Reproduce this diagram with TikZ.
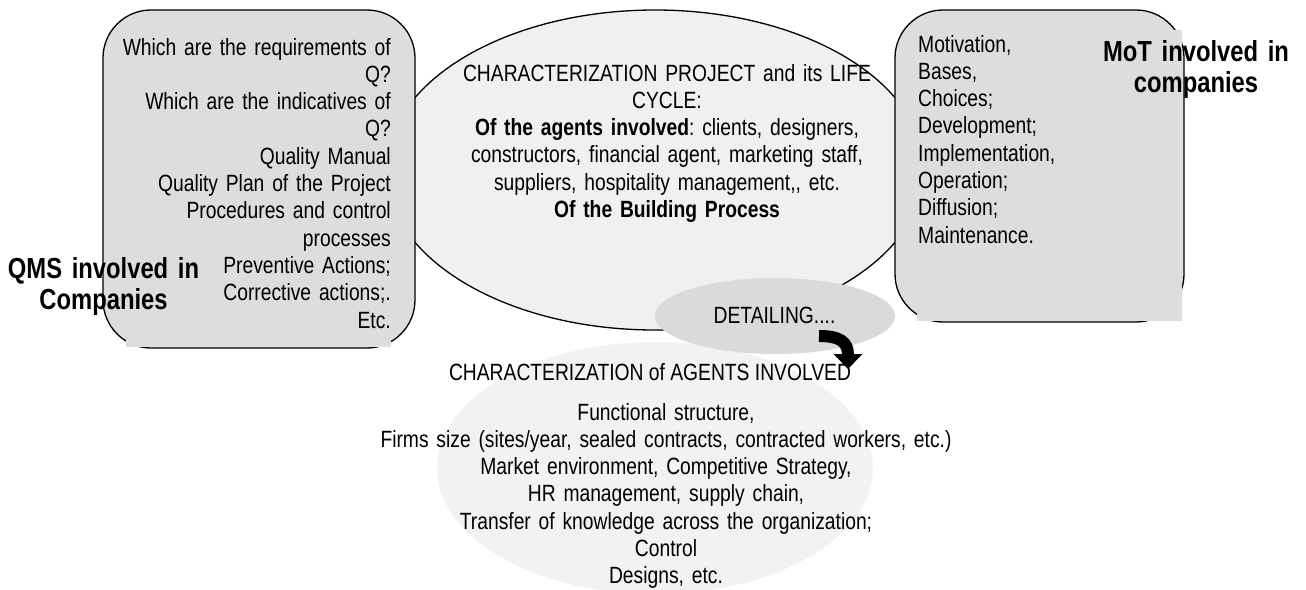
\documentclass[tikz,border=0pt]{standalone}
\usepackage{fontspec}
\setmainfont{Liberation Sans}[FakeStretch=0.82]
\usetikzlibrary{shapes.geometric,arrows.meta}
\definecolor{boxgray}{HTML}{DDDDDD}
\definecolor{projfill}{HTML}{F0F0F0}
\definecolor{detfill}{HTML}{DADADA}
\definecolor{agentfill}{HTML}{F2F2F2}
\frenchspacing
\begin{document}
\begin{tikzpicture}[x=1pt,y=-1pt,
  outline/.style={draw=black,line width=1.3pt},
  roundbox/.style={outline,rectangle,rounded corners=48pt,fill=boxgray,inner sep=0pt},
  patch/.style={rectangle,fill=boxgray,inner sep=0pt},
  oval/.style={ellipse,inner sep=0pt},
  bodytext/.style={font=\fontsize{23.5}{27.3}\selectfont\frenchspacing,inner sep=0pt},
  tagtext/.style={font=\fontsize{29}{31}\selectfont\bfseries,inner sep=0pt,
    align=center,text width=220pt,anchor=base}]
\useasboundingbox (0,0) rectangle (1306,589);
\fill[white] (0,0) rectangle (1306,589);

% shapes, back to front
\node[oval,outline,fill=projfill,minimum width=538pt,minimum height=320pt] (proj) at (655,170) {};
\node[oval,fill=agentfill,minimum width=436pt,minimum height=252pt] (agents) at (655,468) {};
\node[oval,fill=detfill,minimum width=240pt,minimum height=76pt] (det) at (775,316) {};
\node[roundbox,minimum width=312pt,minimum height=338pt] (qmsbox) at (259,179) {};
\node[patch,minimum width=265pt,minimum height=317pt] (qmspatch) at (258.5,188.5) {};
\node[roundbox,minimum width=289pt,minimum height=312pt] (motbox) at (1039.5,166) {};
\node[patch,minimum width=265pt,minimum height=291pt] (motpatch) at (1049.5,175.5) {};

% texts
\node[bodytext,anchor=base east,align=right,text width=300pt] (qmstext) at (391,55)
  {Which are the requirements of\\ Q?\\ Which are the indicatives of\\ Q?\\ Quality Manual\\
   Quality Plan of the Project\\ Procedures and control\\ processes\\ Preventive Actions;\\
   Corrective actions;.\\ Etc.};
\node[tagtext] (qmslabel) at (103.5,278.5) {QMS involved in\\ Companies};

\node[bodytext,anchor=base,align=center,text width=520pt] (projtext) at (667,81)
  {CHARACTERIZATION PROJECT and its LIFE\\ CYCLE:\\
   \textbf{Of the agents involved}: clients, designers,\\
   constructors, financial agent, marketing staff,\\
   suppliers, hospitality management,{},{} etc.\\
   \textbf{Of the Building Process}};

\node[bodytext,anchor=base west,align=left,text width=250pt] (mottext) at (918,52)
  {Motivation,\\ Bases,\\ Choices;\\ Development;\\ Implementation,\\ Operation;\\ Diffusion;\\ Maintenance.};
\node[tagtext] (motlabel) at (1196,61.5) {MoT involved in\\ companies};

\node[bodytext,anchor=base] (dettext) at (774.5,323) {DETAILING....};
\node[bodytext,anchor=base] (agenthead) at (650,380) {CHARACTERIZATION of AGENTS INVOLVED};
\node[bodytext,anchor=base,align=center,text width=640pt] (agenttext) at (666,420)
  {Functional structure,\\
   Firms size (sites/year, sealed contracts, contracted workers, etc.)\\
   Market environment, Competitive Strategy,\\
   HR management, supply chain,\\
   Transfer of knowledge across the organization;\\
   Control\\
   Designs, etc.};

% bent arrow from the detailing oval down to the agents block
\coordinate (arrS) at (819,336);
\coordinate (arrE) at (848,369);
\draw[line width=12pt,-{Triangle[width=28pt,length=15pt]}] (arrS) .. controls (840,336) and (848,342) .. (arrE);
\end{tikzpicture}
\end{document}
